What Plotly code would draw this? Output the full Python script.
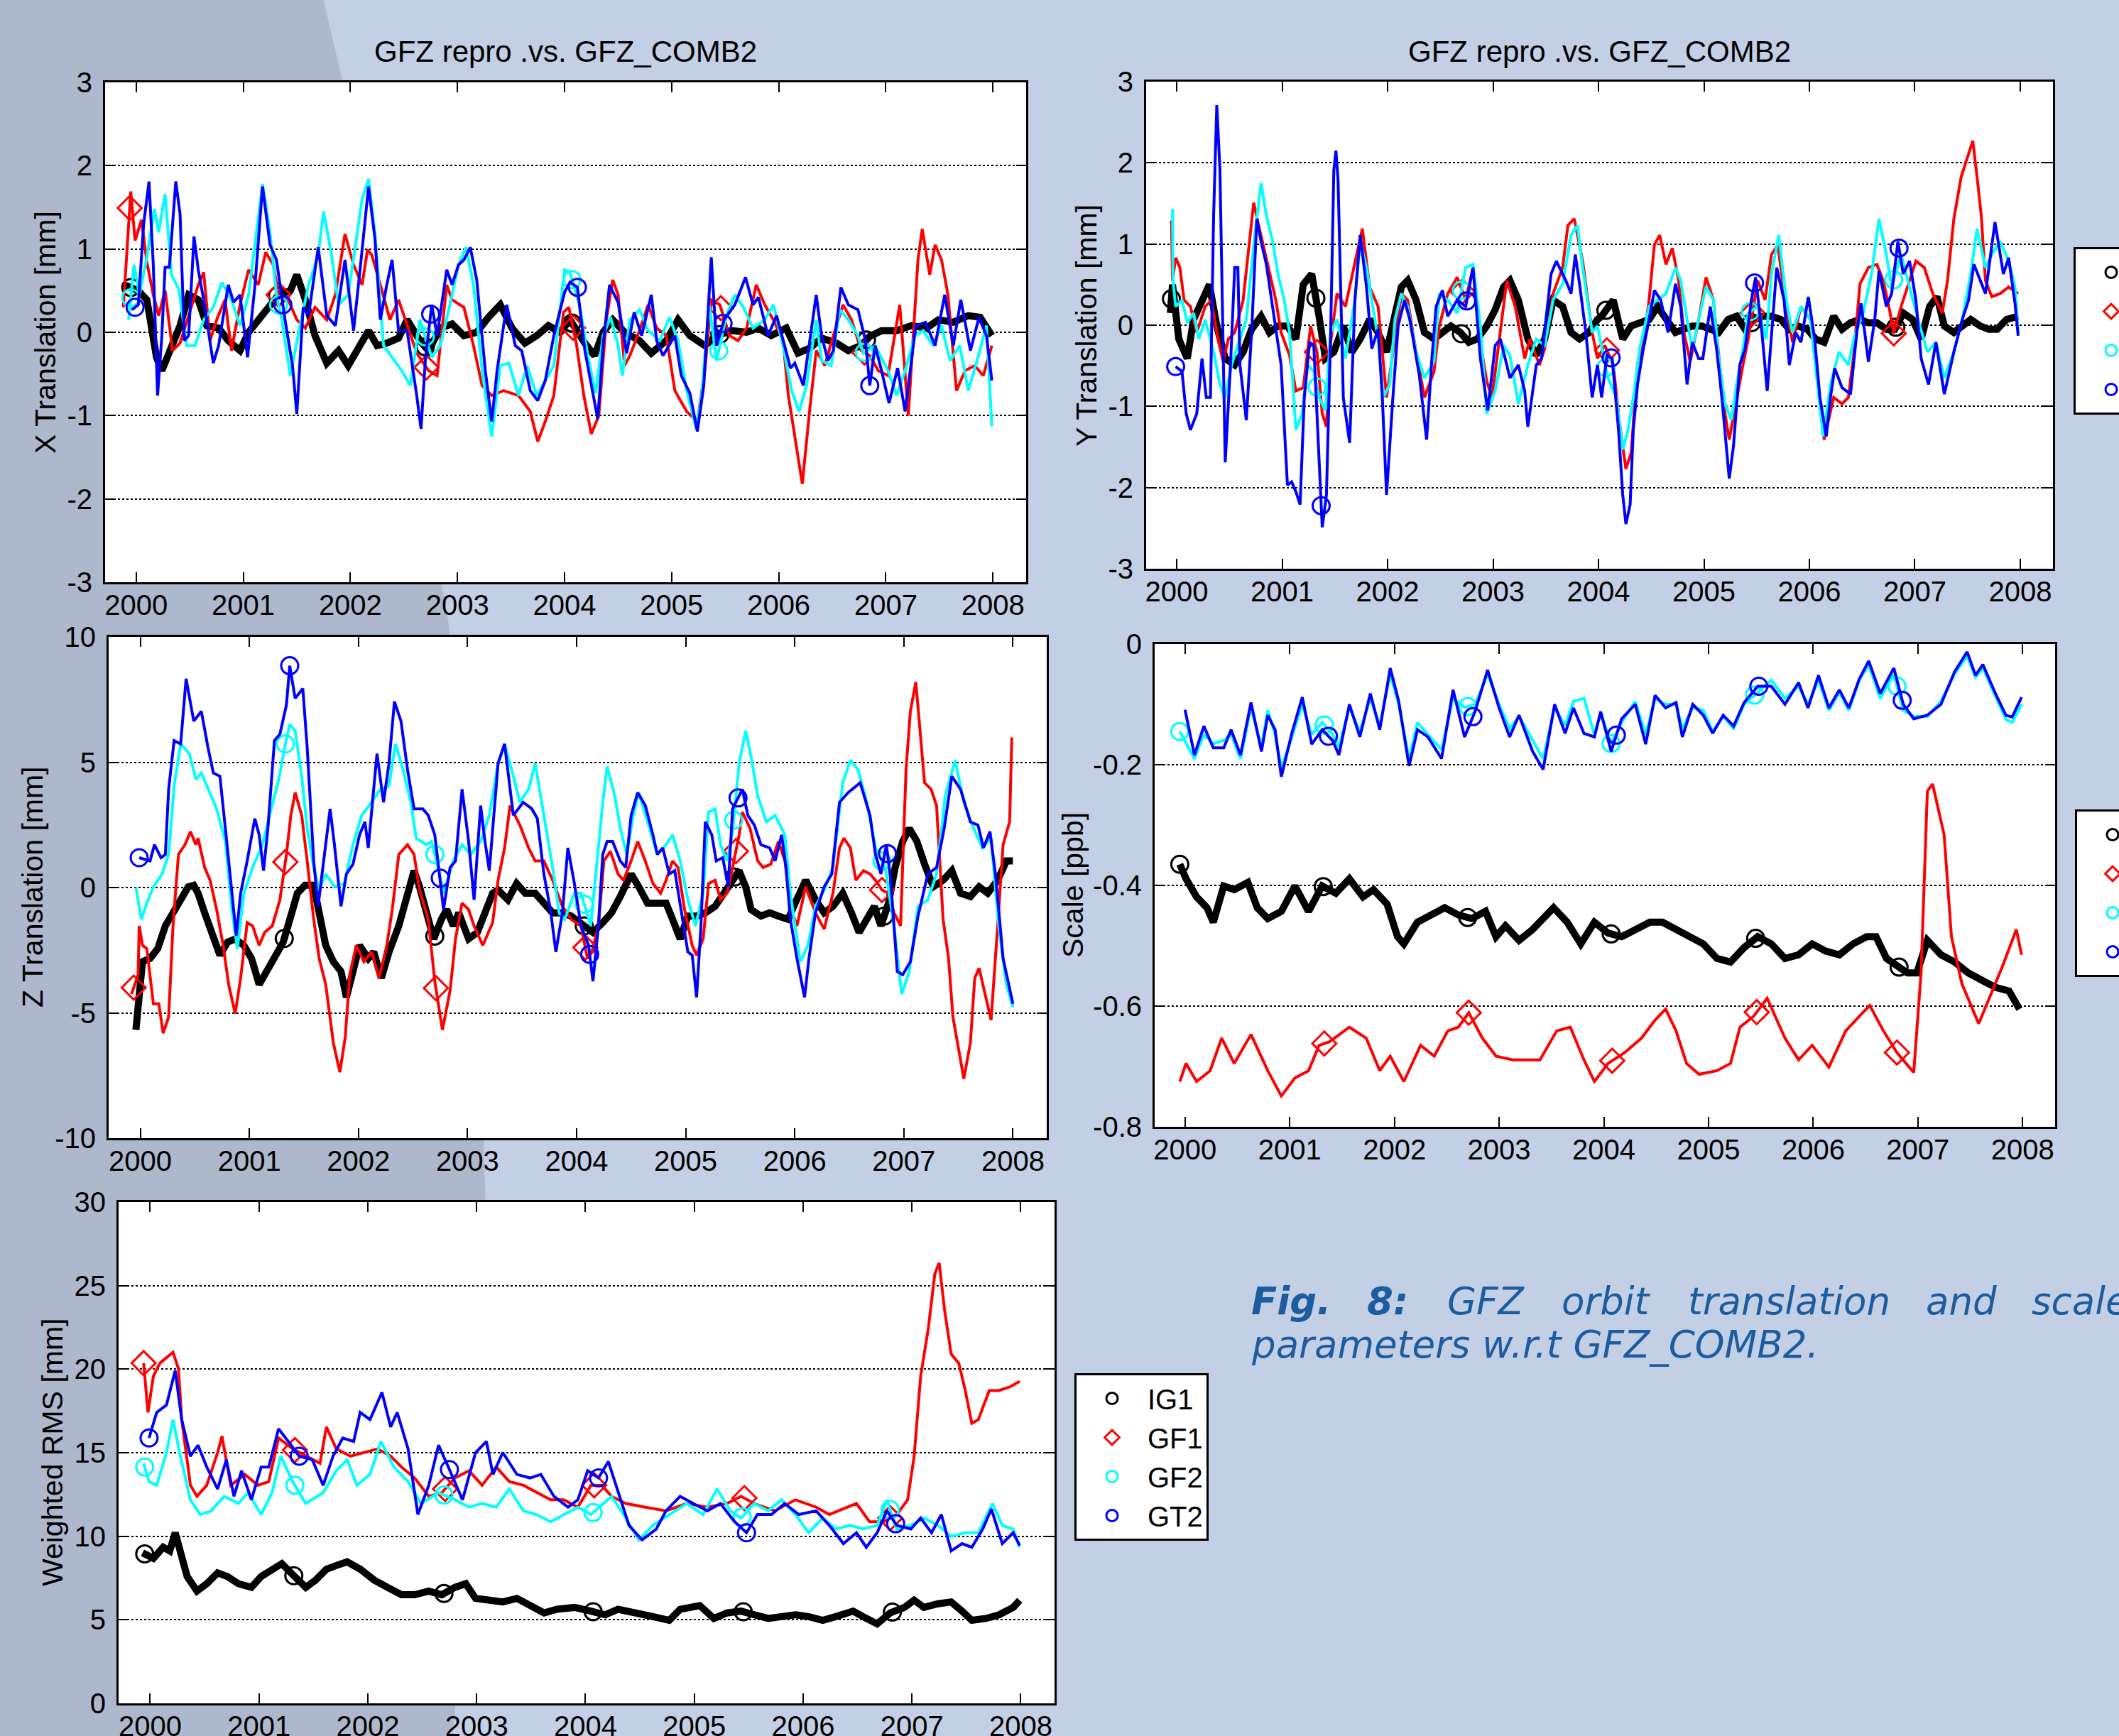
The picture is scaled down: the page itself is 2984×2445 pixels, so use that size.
import numpy as np
import plotly.graph_objects as go

W, H = 2984, 2445
FONT = "Liberation Sans, Arial, Helvetica, sans-serif"

YEARS = [2000, 2001, 2002, 2003, 2004, 2005, 2006, 2007, 2008]
SERIES = ["IG1", "GF1", "GF2", "GT2"]

# ---------------- X translation [mm] ----------------
X_IG1 = [(1999.89,0.57),(2000.02,0.5),(2000.10,0.39),(2000.19,-0.3),(2000.24,-0.46),(2000.33,-0.15),(2000.41,0.08),(2000.49,0.45),(2000.58,0.39),(2000.66,0.08),(2000.77,0.05),(2000.86,-0.1),(2000.97,-0.22),(2001.05,0.0),(2001.14,0.15),(2001.22,0.3),(2001.33,0.45),(2001.44,0.5),(2001.50,0.69),(2001.58,0.39),(2001.67,-0.04),(2001.78,-0.37),(2001.89,-0.22),(2001.98,-0.4),(2002.09,-0.16),(2002.17,0.02),(2002.25,-0.16),(2002.34,-0.13),(2002.45,-0.07),(2002.53,0.15),(2002.65,-0.1),(2002.73,-0.22),(2002.84,0.05),(2002.95,0.1),(2003.06,-0.04),(2003.18,0.0),(2003.29,0.18),(2003.40,0.33),(2003.51,0.05),(2003.63,-0.13),(2003.74,-0.04),(2003.85,0.08),(2003.96,0.0),(2004.05,0.15),(2004.19,-0.13),(2004.28,-0.28),(2004.36,0.0),(2004.45,0.15),(2004.56,0.0),(2004.70,-0.1),(2004.81,-0.25),(2004.95,-0.1),(2005.06,0.15),(2005.17,-0.04),(2005.31,-0.16),(2005.42,-0.04),(2005.56,0.02),(2005.70,0.0),(2005.81,0.05),(2005.93,-0.04),(2006.07,0.05),(2006.18,-0.25),(2006.29,-0.19),(2006.40,-0.07),(2006.54,-0.13),(2006.65,-0.22),(2006.77,-0.16),(2006.85,-0.05),(2006.96,0.02),(2007.10,0.02),(2007.24,0.08),(2007.38,0.05),(2007.49,0.15),(2007.63,0.12),(2007.77,0.2),(2007.88,0.18),(2007.99,-0.04)]
X_GF1 = [(1999.88,0.3),(1999.95,1.69),(1999.99,1.1),(2000.05,1.35),(2000.10,0.84),(2000.16,0.45),(2000.21,0.2),(2000.27,0.5),(2000.34,-0.22),(2000.41,-0.13),(2000.49,0.2),(2000.58,0.57),(2000.63,0.72),(2000.69,-0.1),(2000.76,0.18),(2000.83,0.39),(2000.89,-0.22),(2000.97,0.33),(2001.05,0.75),(2001.14,0.57),(2001.21,0.96),(2001.28,0.81),(2001.33,0.45),(2001.42,0.39),(2001.50,0.15),(2001.58,0.05),(2001.67,0.3),(2001.78,0.15),(2001.86,0.45),(2001.95,1.18),(2002.03,0.81),(2002.11,0.57),(2002.16,0.99),(2002.20,0.93),(2002.28,0.57),(2002.37,0.15),(2002.45,0.39),(2002.53,0.08),(2002.62,-0.25),(2002.73,-0.46),(2002.81,-0.52),(2002.90,0.57),(2002.95,0.39),(2003.06,0.3),(2003.15,-0.16),(2003.23,-0.64),(2003.32,-0.76),(2003.43,-0.7),(2003.57,-0.76),(2003.68,-0.95),(2003.75,-1.31),(2003.82,-1.07),(2003.90,-0.76),(2003.99,0.24),(2004.04,0.3),(2004.11,-0.13),(2004.18,-0.76),(2004.25,-1.22),(2004.32,-1.0),(2004.39,0.15),(2004.45,0.63),(2004.50,0.45),(2004.56,-0.4),(2004.61,-0.28),(2004.70,0.02),(2004.78,0.33),(2004.86,0.05),(2004.95,-0.04),(2005.03,-0.7),(2005.14,-0.95),(2005.24,-1.07),(2005.31,-0.46),(2005.37,0.39),(2005.45,0.33),(2005.54,-0.04),(2005.62,-0.1),(2005.70,0.05),(2005.79,0.57),(2005.87,0.33),(2005.95,0.15),(2006.04,-0.1),(2006.09,-0.76),(2006.18,-1.52),(2006.22,-1.82),(2006.29,-0.92),(2006.35,-0.22),(2006.43,-0.4),(2006.51,-0.04),(2006.60,0.33),(2006.68,0.15),(2006.77,-0.22),(2006.85,-0.28),(2006.93,-0.46),(2007.02,-0.52),(2007.13,0.33),(2007.21,-1.0),(2007.30,0.87),(2007.34,1.24),(2007.41,0.69),(2007.46,1.05),(2007.52,0.87),(2007.58,0.45),(2007.66,-0.7),(2007.74,-0.46),(2007.83,-0.4),(2007.91,-0.52),(2007.99,-0.16)]
X_GF2 = [(1999.93,0.15),(1999.98,0.81),(2000.03,0.45),(2000.10,0.9),(2000.17,1.48),(2000.21,1.2),(2000.27,1.66),(2000.33,0.69),(2000.40,0.51),(2000.47,-0.16),(2000.55,-0.16),(2000.63,0.15),(2000.72,0.3),(2000.80,0.6),(2000.89,0.39),(2000.97,0.08),(2001.05,0.45),(2001.11,1.05),(2001.18,1.78),(2001.25,1.2),(2001.31,0.45),(2001.36,0.15),(2001.44,-0.52),(2001.53,0.08),(2001.61,0.57),(2001.70,0.93),(2001.75,1.45),(2001.82,0.96),(2001.89,0.33),(2001.98,0.45),(2002.05,1.05),(2002.11,1.6),(2002.17,1.84),(2002.23,1.18),(2002.31,-0.16),(2002.39,-0.3),(2002.48,-0.46),(2002.56,-0.64),(2002.65,0.15),(2002.76,-0.3),(2002.84,-0.16),(2002.93,0.33),(2003.01,0.81),(2003.08,1.02),(2003.15,0.57),(2003.23,-0.46),(2003.32,-1.25),(2003.40,-0.4),(2003.48,-0.37),(2003.57,-0.76),(2003.65,-0.4),(2003.74,-0.76),(2003.82,-0.58),(2003.90,-0.4),(2004.00,0.75),(2004.05,0.72),(2004.14,0.33),(2004.22,-0.3),(2004.29,-0.73),(2004.36,-0.04),(2004.43,0.18),(2004.50,-0.16),(2004.54,-0.52),(2004.61,0.15),(2004.70,0.27),(2004.78,0.02),(2004.89,-0.1),(2004.98,0.18),(2005.06,-0.1),(2005.14,-0.7),(2005.23,-1.16),(2005.28,-0.76),(2005.35,0.33),(2005.42,-0.34),(2005.51,0.2),(2005.59,0.45),(2005.67,0.3),(2005.76,0.05),(2005.87,0.15),(2005.95,0.33),(2006.04,-0.16),(2006.12,-0.7),(2006.19,-0.95),(2006.26,-0.64),(2006.35,0.15),(2006.40,-0.34),(2006.49,-0.4),(2006.57,0.27),(2006.65,0.15),(2006.74,-0.04),(2006.79,-0.25),(2006.90,-0.16),(2007.02,-0.46),(2007.10,-0.76),(2007.18,-0.46),(2007.27,-0.04),(2007.35,0.02),(2007.44,-0.16),(2007.52,0.08),(2007.60,-0.34),(2007.69,-0.16),(2007.77,-0.7),(2007.86,-0.3),(2007.94,0.08),(2007.99,-1.13)]
X_GT2 = [(1999.96,0.27),(2000.02,0.33),(2000.07,1.3),(2000.12,1.81),(2000.16,0.81),(2000.20,-0.76),(2000.24,-0.04),(2000.27,0.78),(2000.31,0.78),(2000.37,1.81),(2000.41,1.42),(2000.45,-0.1),(2000.49,-0.04),(2000.54,1.15),(2000.58,0.75),(2000.63,0.39),(2000.72,-0.37),(2000.77,-0.16),(2000.86,0.57),(2000.91,0.36),(2000.97,0.45),(2001.04,-0.3),(2001.11,0.57),(2001.18,1.75),(2001.25,1.05),(2001.31,0.87),(2001.39,0.15),(2001.46,-0.4),(2001.50,-0.98),(2001.56,0.3),(2001.61,0.2),(2001.70,1.02),(2001.78,0.2),(2001.86,0.08),(2001.95,0.87),(2002.03,0.02),(2002.11,0.99),(2002.17,1.75),(2002.23,1.12),(2002.28,0.15),(2002.34,0.57),(2002.39,0.87),(2002.45,0.02),(2002.53,0.02),(2002.62,-0.76),(2002.66,-1.16),(2002.70,-0.34),(2002.76,0.33),(2002.81,-0.04),(2002.90,0.75),(2002.95,0.57),(2003.01,0.81),(2003.06,0.87),(2003.12,1.02),(2003.18,0.63),(2003.26,-0.46),(2003.32,-1.07),(2003.37,-0.46),(2003.46,0.33),(2003.54,-0.16),(2003.60,-0.22),(2003.68,-0.7),(2003.75,-0.82),(2003.82,-0.58),(2003.90,-0.04),(2004.00,0.48),(2004.05,0.6),(2004.12,0.54),(2004.19,-0.22),(2004.25,-0.64),(2004.31,-1.04),(2004.36,-0.16),(2004.42,0.57),(2004.50,0.36),(2004.58,-0.25),(2004.65,0.24),(2004.72,-0.04),(2004.81,0.45),(2004.86,-0.1),(2004.92,-0.28),(2005.03,-0.04),(2005.09,-0.52),(2005.17,-0.73),(2005.24,-1.19),(2005.30,-0.64),(2005.37,0.9),(2005.42,-0.16),(2005.49,0.15),(2005.59,0.33),(2005.69,0.66),(2005.76,0.33),(2005.81,0.42),(2005.90,-0.04),(2005.98,0.2),(2006.04,-0.1),(2006.11,-0.43),(2006.15,-0.37),(2006.23,-0.64),(2006.29,-0.1),(2006.35,0.45),(2006.40,-0.04),(2006.46,-0.34),(2006.51,-0.22),(2006.58,0.54),(2006.65,0.33),(2006.74,0.27),(2006.81,-0.1),(2006.85,-0.64),(2006.90,-0.16),(2006.96,-0.46),(2007.03,-0.85),(2007.11,-0.43),(2007.18,-0.95),(2007.28,0.08),(2007.37,0.12),(2007.46,-0.16),(2007.55,0.45),(2007.63,-0.16),(2007.70,0.39),(2007.79,-0.22),(2007.87,0.18),(2007.94,-0.04),(2007.99,-0.58)]

# ---------------- Y translation [mm] ----------------
Y_IG1 = [(1999.94,0.15),(1999.96,0.5),(2000.02,-0.17),(2000.10,-0.41),(2000.16,0.07),(2000.24,0.31),(2000.31,0.5),(2000.38,-0.01),(2000.46,-0.41),(2000.55,-0.49),(2000.63,-0.33),(2000.71,-0.05),(2000.80,0.11),(2000.88,-0.09),(2000.96,-0.01),(2001.05,-0.01),(2001.13,-0.17),(2001.20,0.5),(2001.28,0.63),(2001.35,0.11),(2001.41,-0.41),(2001.49,-0.33),(2001.58,-0.01),(2001.66,-0.33),(2001.74,-0.17),(2001.83,0.07),(2001.91,-0.09),(2001.99,-0.33),(2002.08,0.23),(2002.13,0.47),(2002.19,0.55),(2002.27,0.31),(2002.35,-0.09),(2002.44,-0.17),(2002.52,-0.09),(2002.60,-0.01),(2002.69,-0.09),(2002.77,-0.21),(2002.85,-0.17),(2002.94,-0.01),(2003.02,0.19),(2003.10,0.47),(2003.16,0.55),(2003.24,0.31),(2003.33,-0.17),(2003.41,-0.37),(2003.49,-0.17),(2003.57,0.31),(2003.66,0.23),(2003.74,-0.09),(2003.82,-0.17),(2003.91,-0.09),(2003.99,0.07),(2004.03,0.11),(2004.14,0.31),(2004.23,-0.17),(2004.31,-0.01),(2004.39,0.03),(2004.48,0.07),(2004.56,0.23),(2004.64,0.07),(2004.73,-0.09),(2004.81,-0.05),(2004.89,-0.01),(2004.98,-0.01),(2005.06,-0.05),(2005.14,-0.09),(2005.23,0.07),(2005.31,0.11),(2005.39,-0.05),(2005.48,0.07),(2005.56,0.11),(2005.64,0.11),(2005.73,0.07),(2005.81,-0.05),(2005.89,-0.01),(2005.98,-0.05),(2006.06,-0.17),(2006.14,-0.21),(2006.23,0.11),(2006.31,-0.05),(2006.39,0.03),(2006.48,0.07),(2006.56,0.03),(2006.64,0.03),(2006.73,-0.05),(2006.81,-0.05),(2006.89,0.15),(2006.98,0.07),(2007.06,-0.17),(2007.14,0.23),(2007.21,0.35),(2007.28,-0.01),(2007.37,-0.09),(2007.45,-0.01),(2007.53,0.07),(2007.62,-0.01),(2007.70,-0.05),(2007.78,-0.05),(2007.87,0.07),(2007.98,0.11)]
Y_GF1 = [(1999.95,1.29),(1999.96,0.55),(1999.99,0.83),(2000.03,0.71),(2000.07,0.31),(2000.13,0.23),(2000.19,-0.09),(2000.27,0.23),(2000.33,0.31),(2000.38,-0.09),(2000.44,-0.45),(2000.49,-0.17),(2000.55,-0.09),(2000.63,0.31),(2000.69,1.03),(2000.73,1.51),(2000.77,1.27),(2000.82,0.99),(2000.88,0.63),(2000.94,0.31),(2000.99,-0.09),(2001.07,-0.37),(2001.13,-0.81),(2001.20,-0.77),(2001.27,-0.01),(2001.33,-0.33),(2001.38,-1.09),(2001.42,-1.25),(2001.46,-0.21),(2001.52,0.39),(2001.60,0.23),(2001.69,0.75),(2001.76,1.19),(2001.83,0.47),(2001.91,0.23),(2001.99,-0.89),(2002.05,-0.33),(2002.13,0.39),(2002.19,0.31),(2002.27,-0.33),(2002.35,-0.89),(2002.44,-0.57),(2002.49,-0.01),(2002.57,0.39),(2002.66,0.59),(2002.74,0.31),(2002.81,0.71),(2002.88,-0.21),(2002.94,-0.69),(2002.99,-0.89),(2003.06,-0.17),(2003.13,0.55),(2003.21,0.23),(2003.30,-0.41),(2003.35,-0.17),(2003.44,-0.49),(2003.49,-0.29),(2003.57,0.39),(2003.66,0.71),(2003.71,1.23),(2003.77,1.31),(2003.85,0.79),(2003.94,-0.09),(2003.99,-0.41),(2004.06,-0.25),(2004.14,-0.49),(2004.20,-1.21),(2004.26,-1.77),(2004.31,-1.57),(2004.37,-0.49),(2004.42,-0.25),(2004.48,0.31),(2004.53,0.99),(2004.58,1.11),(2004.64,0.75),(2004.70,0.95),(2004.76,0.55),(2004.81,-0.09),(2004.87,-0.45),(2004.95,0.07),(2005.02,0.59),(2005.09,0.31),(2005.14,-0.37),(2005.20,-1.09),(2005.24,-1.41),(2005.31,-0.89),(2005.37,-0.49),(2005.42,-0.17),(2005.51,0.55),(2005.58,0.31),(2005.64,0.87),(2005.70,0.99),(2005.77,0.31),(2005.84,-0.21),(2005.92,0.23),(2006.01,0.07),(2006.09,-0.89),(2006.14,-1.41),(2006.23,-0.89),(2006.31,-0.97),(2006.37,-0.89),(2006.42,-0.37),(2006.48,0.51),(2006.56,0.71),(2006.64,0.75),(2006.70,0.55),(2006.76,0.19),(2006.80,-0.1),(2006.87,0.23),(2006.95,0.55),(2007.01,0.79),(2007.09,0.71),(2007.17,0.39),(2007.26,0.15),(2007.31,0.55),(2007.37,1.31),(2007.44,1.83),(2007.49,2.03),(2007.55,2.27),(2007.59,1.83),(2007.63,1.35),(2007.67,0.55),(2007.73,0.35),(2007.81,0.39),(2007.89,0.47),(2007.98,0.39)]
Y_GF2 = [(1999.96,1.43),(1999.965,0.55),(1999.99,0.23),(2000.05,0.31),(2000.10,0.03),(2000.16,0.15),(2000.21,-0.17),(2000.27,0.07),(2000.35,-0.33),(2000.41,-0.73),(2000.46,-0.89),(2000.52,-0.49),(2000.57,-0.29),(2000.66,0.07),(2000.74,1.11),(2000.80,1.75),(2000.85,1.35),(2000.91,1.03),(2000.96,0.63),(2001.02,0.31),(2001.07,-0.09),(2001.13,-1.29),(2001.19,-1.09),(2001.24,-0.49),(2001.30,-0.57),(2001.35,-0.89),(2001.41,-1.05),(2001.46,-0.09),(2001.52,0.07),(2001.60,-0.41),(2001.69,0.31),(2001.74,1.03),(2001.80,0.71),(2001.85,0.31),(2001.91,-0.17),(2001.96,-0.89),(2002.02,-0.73),(2002.07,0.07),(2002.13,0.39),(2002.19,0.23),(2002.27,-0.33),(2002.35,-0.65),(2002.44,-0.45),(2002.49,0.39),(2002.57,0.31),(2002.66,0.15),(2002.74,0.71),(2002.81,0.75),(2002.88,-0.01),(2002.94,-1.09),(2003.02,-0.81),(2003.10,-0.25),(2003.16,-0.37),(2003.24,-0.97),(2003.33,-0.49),(2003.41,-0.17),(2003.49,-0.25),(2003.57,0.31),(2003.66,0.51),(2003.74,1.11),(2003.80,1.23),(2003.85,0.71),(2003.94,-0.09),(2003.99,-0.01),(2004.09,-0.65),(2004.17,-0.89),(2004.23,-1.53),(2004.28,-1.29),(2004.34,-0.81),(2004.39,-0.29),(2004.48,0.23),(2004.56,0.31),(2004.64,0.39),(2004.73,0.71),(2004.78,0.55),(2004.84,0.07),(2004.89,-0.29),(2004.95,0.07),(2005.02,0.47),(2005.09,0.31),(2005.14,-0.41),(2005.20,-0.97),(2005.26,-1.17),(2005.31,-0.73),(2005.37,-0.29),(2005.42,0.15),(2005.51,0.23),(2005.59,-0.17),(2005.64,0.63),(2005.71,1.11),(2005.78,0.31),(2005.84,-0.09),(2005.92,0.23),(2006.01,0.07),(2006.09,-0.89),(2006.13,-1.37),(2006.20,-0.73),(2006.28,-0.33),(2006.37,-0.49),(2006.42,-0.17),(2006.51,0.15),(2006.59,0.63),(2006.66,1.31),(2006.73,0.87),(2006.78,0.47),(2006.87,0.87),(2006.95,0.47),(2007.03,0.07),(2007.12,-0.33),(2007.20,-0.21),(2007.28,-0.65),(2007.37,-0.33),(2007.45,0.07),(2007.53,0.63),(2007.59,1.19),(2007.67,0.71),(2007.73,0.87),(2007.81,1.03),(2007.89,0.79),(2007.95,0.47),(2007.98,-0.09)]
Y_GT2 = [(1999.99,-0.51),(2000.05,-0.57),(2000.09,-1.09),(2000.13,-1.29),(2000.19,-1.09),(2000.24,-0.41),(2000.28,-0.89),(2000.32,-0.89),(2000.35,1.35),(2000.38,2.71),(2000.41,1.91),(2000.44,-0.49),(2000.46,-1.69),(2000.51,-0.49),(2000.55,0.71),(2000.58,0.71),(2000.60,-0.49),(2000.66,-1.17),(2000.71,-0.09),(2000.76,1.31),(2000.80,1.03),(2000.85,0.75),(2000.94,-0.01),(2000.99,-0.49),(2001.05,-1.97),(2001.09,-1.93),(2001.13,-2.05),(2001.17,-2.21),(2001.21,-0.89),(2001.26,-0.21),(2001.30,-0.25),(2001.35,-1.69),(2001.38,-2.49),(2001.42,-2.09),(2001.46,-0.09),(2001.49,1.91),(2001.51,2.15),(2001.53,1.79),(2001.58,-0.89),(2001.64,-1.45),(2001.69,0.31),(2001.74,1.11),(2001.80,0.47),(2001.85,-0.29),(2001.91,-0.05),(2001.95,-0.89),(2001.99,-2.09),(2002.05,-0.89),(2002.10,-0.01),(2002.16,0.31),(2002.21,0.07),(2002.30,-0.61),(2002.37,-1.41),(2002.42,-0.41),(2002.46,0.23),(2002.52,0.43),(2002.57,0.11),(2002.66,0.31),(2002.74,0.23),(2002.81,0.71),(2002.88,-0.41),(2002.95,-1.05),(2003.02,-0.25),(2003.07,-0.17),(2003.16,-0.65),(2003.24,-0.49),(2003.30,-0.81),(2003.33,-1.25),(2003.41,-0.49),(2003.46,-0.41),(2003.55,0.63),(2003.60,0.79),(2003.69,0.55),(2003.74,0.39),(2003.78,0.87),(2003.82,0.51),(2003.88,-0.09),(2003.94,-0.89),(2003.99,-0.49),(2004.03,-0.89),(2004.08,-0.37),(2004.13,-0.41),(2004.19,-1.29),(2004.23,-2.09),(2004.26,-2.45),(2004.30,-2.21),(2004.33,-1.29),(2004.37,-0.73),(2004.42,-0.33),(2004.48,0.07),(2004.53,0.43),(2004.59,0.31),(2004.66,-0.09),(2004.73,0.51),(2004.78,0.23),(2004.84,-0.73),(2004.89,-0.21),(2004.95,-0.41),(2004.99,-0.41),(2005.06,0.23),(2005.12,-0.29),(2005.17,-0.89),(2005.21,-1.49),(2005.24,-1.89),(2005.28,-1.49),(2005.34,-0.49),(2005.39,-0.29),(2005.45,0.31),(2005.49,0.59),(2005.55,-0.09),(2005.60,-0.81),(2005.64,-0.09),(2005.69,0.71),(2005.76,0.31),(2005.81,-0.49),(2005.87,-0.09),(2005.92,-0.21),(2005.99,0.35),(2006.05,-0.17),(2006.10,-0.89),(2006.16,-1.37),(2006.20,-0.89),(2006.24,-0.53),(2006.31,-0.77),(2006.39,-0.85),(2006.45,-0.09),(2006.49,0.27),(2006.56,-0.45),(2006.62,0.07),(2006.66,0.67),(2006.73,0.23),(2006.78,0.39),(2006.84,1.03),(2006.89,0.63),(2006.95,0.79),(2007.01,0.31),(2007.06,-0.41),(2007.13,-0.73),(2007.20,-0.21),(2007.28,-0.85),(2007.37,-0.33),(2007.45,0.07),(2007.51,0.31),(2007.56,0.75),(2007.62,0.55),(2007.67,0.39),(2007.76,1.27),(2007.84,0.63),(2007.89,0.83),(2007.95,0.27),(2007.98,-0.13)]

# ---------------- Z translation [mm] ----------------
Z_IG1 = [(1999.96,-5.68),(1999.99,-4.12),(2000.02,-2.96),(2000.09,-2.83),(2000.16,-2.44),(2000.23,-1.53),(2000.30,-1.01),(2000.37,-0.36),(2000.44,0.03),(2000.49,0.09),(2000.53,-0.23),(2000.59,-1.01),(2000.66,-1.79),(2000.73,-2.70),(2000.80,-2.18),(2000.87,-2.05),(2000.95,-2.31),(2001.02,-2.83),(2001.09,-3.87),(2001.16,-3.35),(2001.23,-2.83),(2001.31,-2.18),(2001.38,-1.14),(2001.44,-0.23),(2001.51,0.09),(2001.59,0.09),(2001.64,-1.01),(2001.70,-2.31),(2001.77,-2.96),(2001.84,-3.35),(2001.89,-4.38),(2001.95,-3.22),(2002.01,-2.31),(2002.09,-2.83),(2002.14,-2.57),(2002.21,-3.61),(2002.28,-2.57),(2002.37,-1.53),(2002.44,-0.49),(2002.51,0.67),(2002.56,0.03),(2002.62,-1.01),(2002.69,-2.05),(2002.76,-1.27),(2002.81,-0.88),(2002.87,-1.53),(2002.92,-1.01),(2003.01,-2.05),(2003.09,-1.79),(2003.16,-1.01),(2003.23,-0.23),(2003.28,-0.10),(2003.37,-0.49),(2003.45,0.16),(2003.53,-0.23),(2003.62,-0.23),(2003.70,-0.62),(2003.78,-1.01),(2003.87,-1.01),(2003.95,-1.14),(2004.07,-1.53),(2004.15,-1.79),(2004.24,-1.40),(2004.32,-1.01),(2004.40,-0.36),(2004.50,0.54),(2004.57,0.03),(2004.65,-0.62),(2004.74,-0.62),(2004.82,-0.62),(2004.88,-1.27),(2004.95,-2.05),(2005.02,-1.14),(2005.10,-1.14),(2005.18,-1.01),(2005.27,-0.75),(2005.35,-0.23),(2005.43,0.29),(2005.49,0.67),(2005.55,0.03),(2005.60,-0.88),(2005.69,-1.14),(2005.77,-1.01),(2005.85,-1.14),(2005.94,-1.27),(2005.99,-0.75),(2006.05,-0.23),(2006.10,0.29),(2006.19,-0.49),(2006.27,-1.01),(2006.35,-0.75),(2006.44,-0.23),(2006.52,-1.01),(2006.59,-1.79),(2006.66,-1.27),(2006.73,-0.75),(2006.79,-1.53),(2006.86,-0.62),(2006.92,0.80),(2006.99,1.84),(2007.05,2.36),(2007.12,1.84),(2007.19,0.93),(2007.27,0.03),(2007.36,0.29),(2007.44,0.67),(2007.52,-0.23),(2007.61,-0.36),(2007.69,0.03),(2007.77,-0.23),(2007.86,0.29),(2007.94,1.06),(2008.00,1.06)]
Z_GF1 = [(1999.92,-4.25),(1999.98,-3.48),(1999.99,-1.53),(2000.02,-2.31),(2000.06,-2.44),(2000.12,-4.64),(2000.17,-4.64),(2000.21,-5.81),(2000.26,-5.16),(2000.30,-1.53),(2000.35,1.32),(2000.41,1.71),(2000.46,2.23),(2000.51,1.71),(2000.53,1.97),(2000.59,0.80),(2000.64,0.29),(2000.70,-0.88),(2000.76,-2.31),(2000.81,-3.87),(2000.87,-5.03),(2000.92,-3.61),(2000.98,-1.40),(2001.03,-1.53),(2001.09,-2.31),(2001.14,-1.79),(2001.21,-1.53),(2001.28,-0.49),(2001.34,1.32),(2001.38,2.88),(2001.42,3.79),(2001.48,2.88),(2001.53,1.06),(2001.59,-1.27),(2001.64,-2.83),(2001.70,-3.87),(2001.77,-6.20),(2001.83,-7.37),(2001.88,-5.94),(2001.92,-3.48),(2001.98,-2.31),(2002.05,-2.96),(2002.12,-2.57),(2002.19,-3.61),(2002.26,-2.31),(2002.31,-0.88),(2002.37,1.32),(2002.45,1.71),(2002.51,1.32),(2002.56,-0.10),(2002.64,-1.27),(2002.70,-3.74),(2002.77,-5.68),(2002.84,-4.12),(2002.89,-2.05),(2002.95,-0.62),(2003.01,-0.88),(2003.06,-1.53),(2003.14,-2.31),(2003.23,-1.40),(2003.28,0.29),(2003.34,1.58),(2003.39,3.27),(2003.48,2.49),(2003.56,1.58),(2003.62,1.06),(2003.70,1.06),(2003.78,0.29),(2003.87,-0.75),(2003.95,-1.27),(2004.04,-1.53),(2004.10,-2.83),(2004.14,-2.57),(2004.20,-1.53),(2004.25,1.06),(2004.31,1.45),(2004.38,0.54),(2004.43,0.29),(2004.50,1.06),(2004.56,1.84),(2004.63,1.06),(2004.70,0.16),(2004.77,-0.23),(2004.82,0.29),(2004.88,1.06),(2004.93,0.80),(2004.99,-0.88),(2005.06,-2.31),(2005.10,-2.70),(2005.16,-2.05),(2005.21,0.16),(2005.27,0.29),(2005.32,-0.49),(2005.38,-0.23),(2005.43,0.80),(2005.49,2.10),(2005.52,3.01),(2005.59,2.36),(2005.66,1.06),(2005.71,0.80),(2005.78,0.93),(2005.85,1.84),(2005.91,1.06),(2005.96,-0.75),(2006.02,-1.53),(2006.10,0.03),(2006.19,-1.01),(2006.27,-1.66),(2006.35,-0.23),(2006.41,1.58),(2006.45,1.97),(2006.51,1.58),(2006.56,0.29),(2006.63,0.67),(2006.69,0.54),(2006.74,0.29),(2006.80,-0.10),(2006.86,-0.23),(2006.91,-1.01),(2006.97,-1.53),(2007.02,4.69),(2007.06,7.03),(2007.11,8.20),(2007.15,6.25),(2007.19,4.18),(2007.25,3.92),(2007.30,3.27),(2007.36,-1.27),(2007.41,-2.83),(2007.45,-5.16),(2007.51,-6.59),(2007.55,-7.63),(2007.61,-6.20),(2007.65,-3.61),(2007.69,-3.22),(2007.75,-4.38),(2007.80,-5.29),(2007.86,-1.53),(2007.91,1.71),(2007.97,2.62),(2007.99,5.99)]
Z_GF2 = [(1999.96,0.0),(2000.01,-1.27),(2000.06,-0.62),(2000.12,0.03),(2000.20,0.54),(2000.26,1.32),(2000.31,4.05),(2000.37,5.73),(2000.45,5.34),(2000.51,4.31),(2000.56,4.57),(2000.64,3.79),(2000.70,3.14),(2000.78,1.84),(2000.84,-0.88),(2000.89,-2.44),(2000.95,-0.23),(2001.03,0.80),(2001.12,1.71),(2001.20,3.14),(2001.27,4.31),(2001.33,5.73),(2001.37,6.51),(2001.42,6.25),(2001.48,4.44),(2001.53,2.36),(2001.59,0.80),(2001.64,-0.10),(2001.70,0.54),(2001.78,0.03),(2001.87,0.16),(2001.95,1.71),(2002.03,2.88),(2002.12,3.40),(2002.20,3.92),(2002.28,4.05),(2002.34,5.73),(2002.41,4.70),(2002.48,3.40),(2002.53,1.97),(2002.62,1.71),(2002.67,1.84),(2002.73,0.80),(2002.78,-0.23),(2002.87,1.06),(2002.95,1.71),(2003.03,1.32),(2003.12,1.84),(2003.20,2.88),(2003.28,4.95),(2003.34,5.73),(2003.42,4.44),(2003.48,3.40),(2003.56,3.92),(2003.62,4.95),(2003.70,2.88),(2003.78,0.80),(2003.84,-1.01),(2003.89,-1.27),(2003.98,-0.23),(2004.04,-0.23),(2004.13,-1.53),(2004.18,0.80),(2004.24,3.40),(2004.28,4.83),(2004.35,3.66),(2004.40,2.36),(2004.46,1.32),(2004.52,2.88),(2004.57,3.79),(2004.65,2.62),(2004.74,1.32),(2004.82,1.71),(2004.88,2.10),(2004.95,1.06),(2005.02,-0.49),(2005.09,-1.53),(2005.16,-0.23),(2005.21,3.01),(2005.27,3.14),(2005.32,1.71),(2005.38,1.06),(2005.43,2.23),(2005.49,4.95),(2005.55,6.25),(2005.60,5.21),(2005.66,3.66),(2005.74,2.62),(2005.82,2.88),(2005.91,2.10),(2005.96,-0.23),(2006.05,-2.96),(2006.12,-2.31),(2006.19,-0.75),(2006.27,-0.10),(2006.35,0.80),(2006.44,4.18),(2006.51,5.08),(2006.58,4.70),(2006.66,3.40),(2006.74,1.58),(2006.83,0.80),(2006.91,-1.53),(2006.98,-4.25),(2007.05,-3.35),(2007.13,-0.75),(2007.22,-0.49),(2007.30,0.54),(2007.38,3.66),(2007.47,5.08),(2007.55,3.40),(2007.64,2.36),(2007.72,1.58),(2007.80,1.97),(2007.87,-1.53),(2007.94,-3.87),(2008.00,-4.77)]
Z_GT2 = [(1999.99,1.19),(2000.09,1.06),(2000.13,1.71),(2000.19,1.19),(2000.23,1.32),(2000.26,3.92),(2000.31,5.86),(2000.37,5.73),(2000.42,8.33),(2000.49,6.64),(2000.56,7.03),(2000.62,5.60),(2000.67,4.57),(2000.73,4.44),(2000.78,2.36),(2000.84,-0.23),(2000.88,-1.92),(2000.92,-0.23),(2000.98,1.06),(2001.05,2.75),(2001.09,2.10),(2001.13,0.67),(2001.17,2.36),(2001.23,5.86),(2001.28,6.12),(2001.34,7.29),(2001.37,8.85),(2001.42,7.55),(2001.49,7.94),(2001.53,5.60),(2001.59,1.06),(2001.63,-0.75),(2001.70,1.84),(2001.74,3.14),(2001.78,1.71),(2001.84,-0.75),(2001.89,0.54),(2001.95,0.93),(2002.01,2.10),(2002.06,2.62),(2002.09,1.58),(2002.14,3.92),(2002.17,5.34),(2002.23,3.40),(2002.28,4.95),(2002.33,7.42),(2002.39,6.64),(2002.45,4.70),(2002.51,3.14),(2002.59,3.14),(2002.64,2.88),(2002.70,2.10),(2002.76,0.03),(2002.78,-0.88),(2002.84,0.80),(2002.89,1.06),(2002.95,3.92),(2003.01,1.84),(2003.06,-0.49),(2003.12,3.27),(2003.16,1.84),(2003.20,0.67),(2003.28,4.95),(2003.34,5.73),(2003.42,2.88),(2003.51,3.40),(2003.59,3.14),(2003.64,2.75),(2003.70,0.54),(2003.76,-0.88),(2003.81,-2.57),(2003.87,-1.01),(2003.92,1.58),(2003.98,0.16),(2004.04,-1.53),(2004.11,-2.31),(2004.15,-3.74),(2004.20,-1.53),(2004.24,1.32),(2004.28,1.84),(2004.33,1.84),(2004.40,1.06),(2004.45,0.80),(2004.50,2.88),(2004.56,3.79),(2004.63,3.27),(2004.70,2.10),(2004.74,1.32),(2004.79,1.58),(2004.85,0.54),(2004.90,0.67),(2004.96,-1.01),(2005.02,-2.57),(2005.06,-2.70),(2005.10,-4.38),(2005.14,-1.53),(2005.18,2.62),(2005.24,2.10),(2005.28,1.06),(2005.34,1.19),(2005.39,0.03),(2005.43,3.14),(2005.52,3.92),(2005.57,2.88),(2005.63,2.49),(2005.69,1.71),(2005.77,1.58),(2005.82,1.06),(2005.88,2.10),(2005.92,0.80),(2005.96,-1.27),(2006.02,-2.83),(2006.09,-4.38),(2006.13,-2.83),(2006.19,-1.01),(2006.27,0.03),(2006.34,0.54),(2006.41,3.40),(2006.49,3.79),(2006.60,4.18),(2006.69,2.88),(2006.74,1.32),(2006.79,0.54),(2006.84,1.71),(2006.88,0.29),(2006.94,-3.35),(2006.99,-3.48),(2007.06,-2.96),(2007.13,-1.14),(2007.22,0.54),(2007.30,0.80),(2007.37,2.36),(2007.44,4.44),(2007.52,3.92),(2007.61,2.62),(2007.68,2.49),(2007.73,1.58),(2007.79,2.23),(2007.84,0.54),(2007.91,-2.83),(2008.00,-4.64)]

# ---------------- Scale [ppb] ----------------
SC_IG1 = [(1999.95,-0.365),(2000.01,-0.389),(2000.11,-0.419),(2000.21,-0.437),(2000.27,-0.461),(2000.37,-0.401),(2000.47,-0.407),(2000.60,-0.395),(2000.69,-0.437),(2000.79,-0.455),(2000.92,-0.443),(2001.05,-0.401),(2001.18,-0.443),(2001.31,-0.401),(2001.44,-0.413),(2001.57,-0.389),(2001.70,-0.419),(2001.80,-0.407),(2001.93,-0.431),(2002.03,-0.485),(2002.09,-0.497),(2002.22,-0.461),(2002.35,-0.449),(2002.48,-0.437),(2002.61,-0.449),(2002.74,-0.455),(2002.87,-0.443),(2002.97,-0.485),(2003.06,-0.467),(2003.19,-0.491),(2003.32,-0.473),(2003.42,-0.455),(2003.52,-0.437),(2003.65,-0.461),(2003.78,-0.497),(2003.91,-0.461),(2004.04,-0.479),(2004.17,-0.485),(2004.30,-0.473),(2004.44,-0.461),(2004.56,-0.461),(2004.69,-0.473),(2004.82,-0.485),(2004.95,-0.497),(2005.08,-0.521),(2005.21,-0.527),(2005.34,-0.503),(2005.47,-0.485),(2005.60,-0.497),(2005.73,-0.521),(2005.86,-0.515),(2005.99,-0.497),(2006.12,-0.509),(2006.25,-0.515),(2006.38,-0.497),(2006.51,-0.485),(2006.60,-0.485),(2006.70,-0.521),(2006.80,-0.533),(2006.90,-0.545),(2006.99,-0.545),(2007.09,-0.491),(2007.22,-0.515),(2007.35,-0.527),(2007.48,-0.545),(2007.61,-0.557),(2007.74,-0.569),(2007.87,-0.575),(2007.97,-0.605)]
SC_GF1 = [(1999.95,-0.725),(2000.01,-0.695),(2000.11,-0.725),(2000.24,-0.707),(2000.35,-0.653),(2000.47,-0.695),(2000.63,-0.647),(2000.79,-0.707),(2000.92,-0.749),(2001.05,-0.719),(2001.18,-0.707),(2001.28,-0.665),(2001.38,-0.659),(2001.57,-0.635),(2001.73,-0.653),(2001.86,-0.707),(2001.96,-0.683),(2002.09,-0.725),(2002.25,-0.665),(2002.38,-0.683),(2002.51,-0.641),(2002.61,-0.635),(2002.71,-0.611),(2002.84,-0.653),(2002.97,-0.683),(2003.13,-0.689),(2003.26,-0.689),(2003.39,-0.689),(2003.55,-0.641),(2003.68,-0.635),(2003.81,-0.689),(2003.91,-0.725),(2004.04,-0.695),(2004.20,-0.677),(2004.36,-0.653),(2004.49,-0.623),(2004.59,-0.605),(2004.69,-0.641),(2004.79,-0.695),(2004.91,-0.713),(2005.08,-0.707),(2005.21,-0.695),(2005.30,-0.635),(2005.43,-0.617),(2005.56,-0.587),(2005.73,-0.653),(2005.86,-0.689),(2005.99,-0.665),(2006.15,-0.701),(2006.31,-0.641),(2006.44,-0.617),(2006.54,-0.599),(2006.67,-0.641),(2006.80,-0.677),(2006.96,-0.710),(2007.03,-0.545),(2007.09,-0.244),(2007.14,-0.232),(2007.25,-0.316),(2007.32,-0.485),(2007.42,-0.563),(2007.58,-0.629),(2007.71,-0.575),(2007.81,-0.533),(2007.94,-0.473),(2007.99,-0.515)]
SC_GF2 = [(1999.95,-0.145),(2000.09,-0.19),(2000.18,-0.15),(2000.27,-0.165),(2000.37,-0.16),(2000.44,-0.15),(2000.53,-0.19),(2000.63,-0.105),(2000.73,-0.17),(2000.79,-0.11),(2000.86,-0.15),(2000.92,-0.205),(2001.02,-0.155),(2001.12,-0.10),(2001.21,-0.15),(2001.31,-0.13),(2001.41,-0.15),(2001.47,-0.17),(2001.57,-0.105),(2001.67,-0.145),(2001.77,-0.09),(2001.86,-0.135),(2001.96,-0.05),(2002.04,-0.10),(2002.14,-0.19),(2002.22,-0.13),(2002.32,-0.15),(2002.45,-0.175),(2002.56,-0.09),(2002.67,-0.105),(2002.77,-0.10),(2002.89,-0.05),(2003.00,-0.10),(2003.10,-0.14),(2003.19,-0.12),(2003.32,-0.16),(2003.42,-0.19),(2003.53,-0.105),(2003.63,-0.135),(2003.71,-0.095),(2003.81,-0.09),(2003.91,-0.15),(2003.97,-0.115),(2004.07,-0.165),(2004.17,-0.13),(2004.30,-0.095),(2004.40,-0.15),(2004.49,-0.09),(2004.59,-0.10),(2004.69,-0.10),(2004.75,-0.14),(2004.85,-0.105),(2004.95,-0.11),(2005.04,-0.145),(2005.14,-0.12),(2005.24,-0.14),(2005.34,-0.10),(2005.47,-0.08),(2005.60,-0.06),(2005.73,-0.09),(2005.86,-0.07),(2005.95,-0.10),(2006.05,-0.06),(2006.15,-0.11),(2006.25,-0.08),(2006.34,-0.11),(2006.44,-0.06),(2006.53,-0.035),(2006.64,-0.09),(2006.77,-0.05),(2006.86,-0.11),(2006.96,-0.12),(2007.09,-0.12),(2007.22,-0.095),(2007.35,-0.05),(2007.47,-0.02),(2007.55,-0.055),(2007.62,-0.04),(2007.74,-0.085),(2007.84,-0.125),(2007.90,-0.13),(2007.99,-0.10)]
SC_GT2 = [(2000.00,-0.109),(2000.09,-0.184),(2000.18,-0.136),(2000.27,-0.172),(2000.37,-0.172),(2000.44,-0.142),(2000.53,-0.184),(2000.63,-0.097),(2000.73,-0.178),(2000.79,-0.118),(2000.86,-0.142),(2000.92,-0.220),(2001.02,-0.148),(2001.12,-0.088),(2001.21,-0.166),(2001.31,-0.142),(2001.41,-0.160),(2001.47,-0.184),(2001.57,-0.100),(2001.67,-0.154),(2001.77,-0.082),(2001.86,-0.142),(2001.96,-0.040),(2002.04,-0.094),(2002.14,-0.202),(2002.22,-0.142),(2002.32,-0.154),(2002.45,-0.190),(2002.56,-0.076),(2002.67,-0.154),(2002.77,-0.112),(2002.89,-0.043),(2003.00,-0.106),(2003.10,-0.154),(2003.19,-0.118),(2003.32,-0.178),(2003.42,-0.208),(2003.53,-0.100),(2003.63,-0.148),(2003.71,-0.106),(2003.81,-0.148),(2003.91,-0.154),(2003.97,-0.112),(2004.07,-0.178),(2004.17,-0.124),(2004.30,-0.100),(2004.40,-0.166),(2004.49,-0.085),(2004.59,-0.106),(2004.69,-0.097),(2004.75,-0.154),(2004.85,-0.100),(2004.95,-0.118),(2005.04,-0.148),(2005.14,-0.118),(2005.24,-0.136),(2005.34,-0.097),(2005.47,-0.070),(2005.60,-0.070),(2005.73,-0.100),(2005.86,-0.064),(2005.95,-0.106),(2006.05,-0.052),(2006.15,-0.106),(2006.25,-0.076),(2006.34,-0.106),(2006.44,-0.058),(2006.53,-0.028),(2006.64,-0.082),(2006.77,-0.040),(2006.86,-0.100),(2006.96,-0.124),(2007.09,-0.118),(2007.22,-0.100),(2007.35,-0.046),(2007.47,-0.013),(2007.55,-0.052),(2007.62,-0.034),(2007.74,-0.082),(2007.84,-0.118),(2007.90,-0.121),(2007.99,-0.088)]

# ---------------- Weighted RMS [mm] ----------------
RMS_IG1 = [(1999.93,9.01),(2000.03,8.68),(2000.12,9.34),(2000.18,9.12),(2000.23,10.21),(2000.27,9.12),(2000.34,7.59),(2000.43,6.72),(2000.52,7.16),(2000.62,7.81),(2000.71,7.59),(2000.81,7.16),(2000.93,6.94),(2001.02,7.59),(2001.12,8.03),(2001.21,8.36),(2001.31,7.70),(2001.43,6.94),(2001.52,7.37),(2001.62,8.03),(2001.71,8.25),(2001.81,8.47),(2001.93,8.03),(2002.06,7.37),(2002.18,6.94),(2002.31,6.50),(2002.43,6.50),(2002.56,6.72),(2002.68,6.50),(2002.80,6.94),(2002.90,7.16),(2002.99,6.28),(2003.12,6.17),(2003.24,6.07),(2003.37,6.28),(2003.49,5.85),(2003.62,5.41),(2003.74,5.63),(2003.90,5.74),(2004.05,5.52),(2004.18,5.30),(2004.30,5.63),(2004.43,5.41),(2004.62,5.19),(2004.77,4.97),(2004.87,5.63),(2005.05,5.85),(2005.18,5.08),(2005.30,5.41),(2005.43,5.52),(2005.55,5.30),(2005.68,5.08),(2005.80,5.19),(2005.93,5.30),(2006.05,5.19),(2006.18,4.97),(2006.30,5.19),(2006.46,5.52),(2006.55,5.19),(2006.68,4.76),(2006.80,5.41),(2006.93,5.74),(2007.02,6.17),(2007.11,5.74),(2007.24,5.96),(2007.36,6.07),(2007.46,5.52),(2007.55,4.97),(2007.68,5.08),(2007.80,5.30),(2007.93,5.74),(2007.99,6.17)]
RMS_GF1 = [(1999.94,20.36),(1999.98,17.41),(2000.03,19.59),(2000.09,20.36),(2000.15,20.69),(2000.21,21.01),(2000.26,20.03),(2000.29,16.98),(2000.37,13.05),(2000.43,12.39),(2000.52,13.05),(2000.62,15.01),(2000.66,15.99),(2000.74,13.05),(2000.87,13.70),(2000.99,13.05),(2001.09,13.27),(2001.18,15.88),(2001.31,15.23),(2001.43,14.79),(2001.56,14.36),(2001.62,16.54),(2001.71,15.23),(2001.84,14.79),(2001.96,15.01),(2002.09,15.23),(2002.21,14.79),(2002.31,14.14),(2002.43,13.49),(2002.56,12.39),(2002.68,12.61),(2002.80,13.49),(2002.93,13.92),(2003.05,13.05),(2003.18,14.14),(2003.30,13.27),(2003.43,13.05),(2003.55,12.61),(2003.68,12.18),(2003.80,12.18),(2003.93,11.74),(2004.05,13.05),(2004.15,13.05),(2004.24,12.39),(2004.37,11.96),(2004.55,11.74),(2004.74,11.52),(2004.93,11.96),(2005.12,11.74),(2005.30,11.96),(2005.43,12.39),(2005.55,11.96),(2005.74,11.52),(2005.93,12.18),(2006.12,11.74),(2006.24,11.30),(2006.37,11.63),(2006.49,11.96),(2006.61,10.87),(2006.74,10.87),(2006.86,11.30),(2006.96,12.18),(2007.02,14.79),(2007.08,19.59),(2007.15,22.43),(2007.21,25.70),(2007.25,26.36),(2007.30,23.52),(2007.36,20.90),(2007.43,20.36),(2007.49,18.72),(2007.55,16.76),(2007.61,16.98),(2007.71,18.72),(2007.80,18.72),(2007.90,18.94),(2007.99,19.27)]
RMS_GF2 = [(1999.94,14.36),(1999.99,13.27),(2000.06,13.05),(2000.15,15.01),(2000.21,16.98),(2000.27,15.01),(2000.37,12.18),(2000.46,11.30),(2000.56,11.52),(2000.68,12.39),(2000.81,11.96),(2000.90,12.61),(2001.02,11.30),(2001.12,12.61),(2001.20,14.79),(2001.31,13.27),(2001.43,11.96),(2001.59,12.61),(2001.71,13.92),(2001.81,14.58),(2001.90,13.05),(2002.02,13.70),(2002.12,15.67),(2002.24,14.14),(2002.37,13.27),(2002.49,11.96),(2002.65,12.61),(2002.80,12.18),(2002.93,11.74),(2003.05,11.96),(2003.18,11.74),(2003.30,12.83),(2003.43,11.52),(2003.55,11.30),(2003.68,10.87),(2003.80,11.30),(2003.93,11.74),(2004.05,11.30),(2004.24,12.39),(2004.37,11.09),(2004.49,9.78),(2004.62,10.65),(2004.77,11.30),(2004.93,11.96),(2005.08,11.30),(2005.21,12.83),(2005.33,11.52),(2005.43,11.09),(2005.55,11.96),(2005.68,11.52),(2005.80,12.18),(2005.93,11.30),(2006.05,10.21),(2006.18,11.09),(2006.30,10.43),(2006.43,10.65),(2006.55,10.43),(2006.68,10.65),(2006.77,12.18),(2006.86,10.43),(2006.99,10.65),(2007.11,11.09),(2007.24,10.65),(2007.36,9.99),(2007.49,10.21),(2007.61,10.21),(2007.74,11.96),(2007.83,10.65),(2007.93,10.43),(2007.99,9.34)]
RMS_GT2 = [(1999.99,15.88),(2000.06,17.41),(2000.15,17.85),(2000.23,19.92),(2000.29,16.98),(2000.37,14.79),(2000.44,15.45),(2000.52,14.14),(2000.62,12.83),(2000.70,14.58),(2000.77,12.39),(2000.84,13.92),(2000.93,12.18),(2001.02,14.14),(2001.09,14.14),(2001.18,16.43),(2001.27,15.67),(2001.37,14.79),(2001.49,14.58),(2001.59,13.05),(2001.68,14.79),(2001.77,15.88),(2001.87,15.67),(2001.93,17.41),(2002.02,16.98),(2002.13,18.61),(2002.21,16.54),(2002.27,17.41),(2002.37,15.23),(2002.46,11.30),(2002.56,13.05),(2002.65,15.45),(2002.74,14.14),(2002.87,12.18),(2002.99,15.01),(2003.09,15.67),(2003.15,13.70),(2003.24,15.01),(2003.37,13.70),(2003.49,13.49),(2003.59,13.70),(2003.71,12.39),(2003.84,11.74),(2003.93,12.18),(2004.02,13.92),(2004.12,13.49),(2004.21,14.47),(2004.30,12.61),(2004.40,10.65),(2004.52,9.78),(2004.65,10.43),(2004.74,11.52),(2004.87,12.39),(2004.99,11.96),(2005.12,11.52),(2005.24,11.96),(2005.37,10.87),(2005.48,10.21),(2005.58,11.30),(2005.71,11.30),(2005.83,11.96),(2005.96,11.30),(2006.12,11.52),(2006.24,10.65),(2006.37,9.56),(2006.49,10.21),(2006.58,9.34),(2006.68,10.21),(2006.77,11.52),(2006.86,10.65),(2006.99,10.43),(2007.08,11.09),(2007.18,10.21),(2007.27,11.30),(2007.36,9.12),(2007.46,9.56),(2007.55,9.34),(2007.65,10.43),(2007.73,11.63),(2007.83,9.56),(2007.93,10.21),(2007.99,9.45)]

# marker epochs (one symbol every ~72 weeks along each series)
MK_IG1 = [1999.95, 2001.32, 2002.70, 2004.07, 2005.45, 2006.82]
MK_GF1 = [1999.94, 2001.33, 2002.71, 2004.08, 2005.46, 2006.80]
MK_GF2 = [1999.95, 2001.33, 2002.70, 2004.07, 2005.44, 2006.80]
MK_GT2 = [1999.99, 2001.37, 2002.75, 2004.12, 2005.48, 2006.85]

X_TICKS = [-3, -2, -1, 0, 1, 2, 3]
Y_TICKS = [-3, -2, -1, 0, 1, 2, 3]
Z_TICKS = [-10, -5, 0, 5, 10]
SC_TICKS = [-0.8, -0.6, -0.4, -0.2, 0]
SC_TICKTEXT = ["-0.8", "-0.6", "-0.4", "-0.2", "0"]
RMS_TICKS = [0, 5, 10, 15, 20, 25, 30]

TITLE = "GFZ repro .vs. GFZ_COMB2"
CAPTION_1 = ["<b><i>Fig.</i></b>", "<b><i>8:</i></b>", "<i>GFZ</i>", "<i>orbit</i>", "<i>translation</i>", "<i>and</i>", "<i>scale</i>"]
CAPTION_2 = "<i>parameters w.r.t GFZ_COMB2.</i>"

# ---------------- styling ----------------
COLORS = {"IG1": "#000000", "GF1": "#ff0000", "GF2": "#00ffff", "GT2": "#0000ff"}
LWIDTH = {"IG1": 10, "GF1": 4, "GF2": 4, "GT2": 4}
SYMBOL = {"IG1": "circle-open", "GF1": "diamond-open", "GF2": "circle-open", "GT2": "circle-open"}
MARKS = {"IG1": MK_IG1, "GF1": MK_GF1, "GF2": MK_GF2, "GT2": MK_GT2}

BG = "#c3cfe5"
BAND = "#aeb8cc"
CAP_COLOR = "#1d5c9e"

# panel boxes in pixels (left, right, top, bottom)
PANELS = [
    dict(data={"IG1": X_IG1, "GF1": X_GF1, "GF2": X_GF2, "GT2": X_GT2}, box=(148, 1445, 116, 820),
         yr=[-3, 3], yt=X_TICKS, ytt=[str(v) for v in X_TICKS], ylab="X Translation [mm]", ylx=64, title=True),
    dict(data={"IG1": Y_IG1, "GF1": Y_GF1, "GF2": Y_GF2, "GT2": Y_GT2}, box=(1614, 2891, 115, 801),
         yr=[-3, 3], yt=Y_TICKS, ytt=[str(v) for v in Y_TICKS], ylab="Y Translation [mm]", ylx=1530, title=True),
    dict(data={"IG1": Z_IG1, "GF1": Z_GF1, "GF2": Z_GF2, "GT2": Z_GT2}, box=(153, 1474, 897, 1603),
         yr=[-10, 10], yt=Z_TICKS, ytt=[str(v) for v in Z_TICKS], ylab="Z Translation [mm]", ylx=46, title=False),
    dict(data={"IG1": SC_IG1, "GF1": SC_GF1, "GF2": SC_GF2, "GT2": SC_GT2}, box=(1626, 2894, 907, 1587),
         yr=[-0.8, 0], yt=SC_TICKS, ytt=SC_TICKTEXT, ylab="Scale [ppb]", ylx=1511, title=False),
    dict(data={"IG1": RMS_IG1, "GF1": RMS_GF1, "GF2": RMS_GF2, "GT2": RMS_GT2}, box=(167, 1485, 1693, 2399),
         yr=[0, 30], yt=RMS_TICKS, ytt=[str(v) for v in RMS_TICKS], ylab="Weighted RMS [mm]", ylx=74, title=False),
]
XR = [1999.71, 2008.31]

fig = go.Figure()
layout = {}
annotations = []
shapes = []

# background band (darker wedge on the left of the poster), extended past the page edges
band_px = [(-40, -40), (446, -40), (483, 116), (560, 480), (632, 880), (665, 1250), (681, 1603),
           (684, 1700), (672, 2050), (634, 2485), (-40, 2485)]
path = "M " + " L ".join(f"{x / W:.5f},{1 - y / H:.5f}" for x, y in band_px) + " Z"
shapes.append(dict(type="path", path=path, xref="paper", yref="paper", fillcolor=BAND,
                   line=dict(width=0), layer="below"))

tickfont = dict(family=FONT, size=40, color="black")

for i, p in enumerate(PANELS, start=1):
    sfx = "" if i == 1 else str(i)
    l, r, t, b = p["box"]
    shapes.append(dict(type="rect", xref="paper", yref="paper", x0=l / W, x1=r / W,
                       y0=1 - b / H, y1=1 - t / H, fillcolor="white", line=dict(width=0), layer="below"))
    layout[f"xaxis{sfx}"] = dict(
        domain=[l / W, r / W], range=XR, anchor=f"y{sfx}", tickvals=YEARS, ticktext=[str(y) for y in YEARS],
        ticks="inside", ticklen=14, tickwidth=2, tickcolor="black", showline=True, linewidth=3,
        linecolor="black", mirror="ticks", showgrid=False, zeroline=False, tickfont=tickfont,
        ticklabelstandoff=-5, fixedrange=True)
    layout[f"yaxis{sfx}"] = dict(
        domain=[1 - b / H, 1 - t / H], range=p["yr"], anchor=f"x{sfx}", tickvals=p["yt"], ticktext=p["ytt"],
        ticks="inside", ticklen=14, tickwidth=2, tickcolor="black", showline=True, linewidth=3,
        linecolor="black", mirror="ticks", showgrid=True, gridcolor="black", griddash="dot", gridwidth=2,
        zeroline=False, tickfont=tickfont, ticklabelstandoff=7, fixedrange=True)

    for s in SERIES:
        tv = np.array(p["data"][s], dtype=float)
        t_arr, v_arr = tv[:, 0], tv[:, 1]
        fig.add_trace(go.Scatter(x=t_arr, y=v_arr, mode="lines", xaxis=f"x{sfx}", yaxis=f"y{sfx}",
                                 line=dict(color=COLORS[s], width=LWIDTH[s]), showlegend=False,
                                 hoverinfo="skip"))
        mk = np.array(MARKS[s])
        mk = mk[(mk >= t_arr.min()) & (mk <= t_arr.max())]
        fig.add_trace(go.Scatter(x=mk, y=np.interp(mk, t_arr, v_arr), mode="markers",
                                 xaxis=f"x{sfx}", yaxis=f"y{sfx}",
                                 marker=dict(symbol=SYMBOL[s], size=24 if s != "GF1" else 26,
                                             color=COLORS[s], line=dict(width=3, color=COLORS[s])),
                                 showlegend=False, hoverinfo="skip"))

    cy = 1 - (t + b) / 2 / H
    annotations.append(dict(text=p["ylab"], x=p["ylx"] / W, y=cy, xref="paper", yref="paper",
                            xanchor="center", yanchor="middle", textangle=-90, showarrow=False,
                            font=dict(family=FONT, size=41, color="black")))
    if p["title"]:
        annotations.append(dict(text=TITLE, x=(l + r) / 2 / W, y=1 - 72 / H, xref="paper", yref="paper",
                                xanchor="center", yanchor="middle", showarrow=False,
                                font=dict(family=FONT, size=42, color="black")))

# legends (three copies, as in the poster)
LEGENDS = {"legend": (1513, 1934), "legend2": (2920, 348), "legend3": (2922, 1140)}
for lid, (lx, ly) in LEGENDS.items():
    for s in SERIES:
        fig.add_trace(go.Scatter(x=[None], y=[None], mode="markers", name=s, legend=lid,
                                 marker=dict(symbol=SYMBOL[s], size=16, color=COLORS[s],
                                             line=dict(width=3, color=COLORS[s])),
                                 showlegend=True, hoverinfo="skip"))
    layout[lid] = dict(x=lx / W, y=1 - ly / H, xanchor="left", yanchor="top", bgcolor="white",
                       bordercolor="black", borderwidth=3, font=dict(family=FONT, size=40, color="black"),
                       itemwidth=90, tracegroupgap=0, traceorder="normal", itemclick=False,
                       itemdoubleclick=False)

# caption (justified first line)
cap_x = [1760, 1923, 2036, 2197, 2375, 2710, 2859]
for word, x in zip(CAPTION_1, cap_x):
    annotations.append(dict(text=word, x=x / W, y=1 - 1832 / H, xref="paper", yref="paper",
                            xanchor="left", yanchor="middle", showarrow=False,
                            font=dict(family="DejaVu Sans, Verdana, sans-serif", size=53, color=CAP_COLOR)))
annotations.append(dict(text=CAPTION_2, x=1760 / W, y=1 - 1894 / H, xref="paper", yref="paper",
                        xanchor="left", yanchor="middle", showarrow=False,
                        font=dict(family="DejaVu Sans, Verdana, sans-serif", size=53, color=CAP_COLOR)))

fig.update_layout(
    width=W, height=H, autosize=False,
    margin=dict(l=0, r=0, t=0, b=0, pad=0, autoexpand=False),
    paper_bgcolor=BG, plot_bgcolor="white",
    shapes=shapes, annotations=annotations, hovermode=False,
    **layout,
)

fig.write_html("out.html", config={"displayModeBar": False, "staticPlot": True},
               post_script="document.body.style.margin='0';document.body.style.background='" + BG + "';")
